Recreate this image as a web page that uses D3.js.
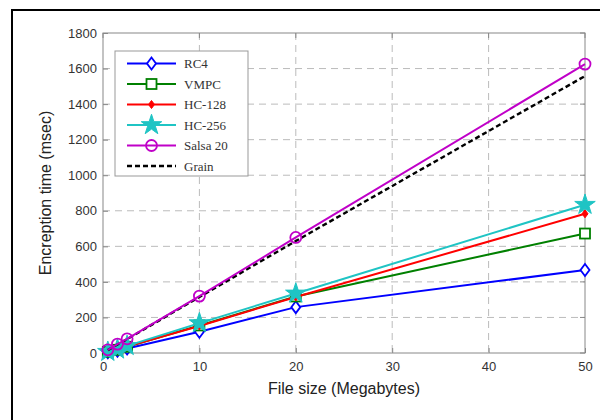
<!DOCTYPE html>
<html><head><meta charset="utf-8">
<script src="https://cdn.jsdelivr.net/npm/d3@7"></script>
<style>body{margin:0;background:#fff}svg{display:block}</style>
</head><body>
<svg id="c" width="600" height="420"></svg>
<script>
const fileSizes = [0.5, 1.5, 2.5, 10, 20, 50];
const rc4    = [4, 12, 25, 120, 258, 467];
const vmpc   = [6, 18, 35, 155, 318, 672];
const hc128  = [6, 18, 36, 152, 315, 783];
const hc256  = [7, 20, 40, 168, 335, 834];
const salsa  = [18, 50, 80, 320, 650, 1625];
const grain  = [16, 48, 78, 315, 630, 1558];
const seriesNames = ["RC4", "VMPC", "HC-128", "HC-256", "Salsa 20", "Grain"];
const xTicks = [0, 10, 20, 30, 40, 50];
const yTicks = [0, 200, 400, 600, 800, 1000, 1200, 1400, 1600, 1800];

const series = [
  {name: seriesNames[0], vals: rc4,   color: "#0000ff", marker: "diamondOpen"},
  {name: seriesNames[1], vals: vmpc,  color: "#008000", marker: "squareOpen"},
  {name: seriesNames[2], vals: hc128, color: "#ff0000", marker: "diamondFilled"},
  {name: seriesNames[3], vals: hc256, color: "#1fc4c4", marker: "star"},
  {name: seriesNames[4], vals: salsa, color: "#c000c8", marker: "circleOpen"},
  {name: seriesNames[5], vals: grain, color: "#000000", marker: "none", dash: "5,3"}
];

const svg = d3.select("#c");
const L = 103, R = 585, T = 33, B = 353;
const x = d3.scaleLinear().domain([0, 50]).range([L, R]);
const y = d3.scaleLinear().domain([0, 1800]).range([B, T]);

// outer frame
svg.append("rect").attr("x", 12).attr("y", 10).attr("width", 600).attr("height", 420)
  .attr("fill", "none").attr("stroke", "#000").attr("stroke-width", 2);

// grid
const grid = svg.append("g");
grid.selectAll("line.gx").data(xTicks.slice(1, -1)).join("line")
  .attr("x1", d => x(d)).attr("x2", d => x(d)).attr("y1", T).attr("y2", B)
  .attr("stroke", "#bbb").attr("stroke-dasharray", "7,5").attr("stroke-width", 1);
grid.selectAll("line.gy").data(yTicks.slice(1, -1)).join("line")
  .attr("y1", d => y(d)).attr("y2", d => y(d)).attr("x1", L).attr("x2", R)
  .attr("stroke", "#bbb").attr("stroke-dasharray", "7,5").attr("stroke-width", 1);

// axes box
svg.append("rect").attr("x", L).attr("y", T).attr("width", R - L).attr("height", B - T)
  .attr("fill", "none").attr("stroke", "#888").attr("stroke-width", 1);

const tickFont = "Liberation Sans, Arial, sans-serif";
const xAxis = svg.append("g").attr("transform", `translate(0,${B})`)
  .call(d3.axisBottom(x).tickValues(xTicks).tickFormat(d3.format("d")).tickSize(-5).tickPadding(9));
const yAxis = svg.append("g").attr("transform", `translate(${L},0)`)
  .call(d3.axisLeft(y).tickValues(yTicks).tickFormat(d3.format("d")).tickSize(-5).tickPadding(6));
[xAxis, yAxis].forEach(a => {
  a.select(".domain").remove();
  a.selectAll(".tick line").attr("stroke", "#888");
  a.selectAll(".tick text").attr("font-family", tickFont).attr("font-size", 13).attr("fill", "#333");
});
// top/right ticks
svg.append("g").selectAll("line").data(xTicks).join("line")
  .attr("x1", d => x(d)).attr("x2", d => x(d)).attr("y1", T).attr("y2", T + 5).attr("stroke", "#888");
svg.append("g").selectAll("line").data(yTicks).join("line")
  .attr("y1", d => y(d)).attr("y2", d => y(d)).attr("x1", R).attr("x2", R - 5).attr("stroke", "#888");

// labels
svg.append("text").attr("x", 344).attr("y", 394).attr("text-anchor", "middle")
  .attr("font-family", tickFont).attr("font-size", 16).attr("fill", "#222")
  .text("File size (Megabytes)");
svg.append("text").attr("transform", "translate(51,193) rotate(-90)").attr("text-anchor", "middle")
  .attr("font-family", tickFont).attr("font-size", 16).attr("fill", "#222")
  .text("Encreption time (msec)");

function drawMarker(g, type, color) {
  if (type === "diamondOpen") {
    g.append("path").attr("d", "M0,-6L4.5,0L0,6L-4.5,0Z").attr("fill", "#fff").attr("stroke", color).attr("stroke-width", 1.8);
  } else if (type === "squareOpen") {
    g.append("rect").attr("x", -5).attr("y", -5).attr("width", 10).attr("height", 10)
      .attr("fill", "#fff").attr("stroke", color).attr("stroke-width", 1.8);
  } else if (type === "diamondFilled") {
    g.append("path").attr("d", "M0,-4L3,0L0,4L-3,0Z").attr("fill", color).attr("stroke", color).attr("stroke-width", 1);
  } else if (type === "star") {
    g.append("path").attr("d", d3.symbol().type(d3.symbolStar).size(130)())
      .attr("fill", color).attr("stroke", color).attr("stroke-width", 1);
  } else if (type === "circleOpen") {
    g.append("circle").attr("r", 5.5).attr("fill", "none").attr("stroke", color).attr("stroke-width", 1.8);
  }
}

const line = d3.line().x((d, i) => x(fileSizes[i])).y(d => y(d));
const plot = svg.append("g");
const order = [0, 1, 2, 3, 5, 4];
order.forEach(k => {
  const s = series[k];
  plot.append("path").datum(s.vals).attr("d", line).attr("fill", "none")
    .attr("stroke", s.color).attr("stroke-width", s.dash ? 2.4 : 2)
    .attr("stroke-dasharray", s.dash || null);
  if (s.marker !== "none") {
    s.vals.forEach((v, i) => {
      const g = plot.append("g").attr("transform", `translate(${x(fileSizes[i])},${y(v)})`);
      drawMarker(g, s.marker, s.color);
    });
  }
});

// legend
const lg = svg.append("g");
lg.append("rect").attr("x", 115).attr("y", 51).attr("width", 133).attr("height", 125)
  .attr("fill", "#fff").attr("stroke", "#999").attr("stroke-width", 1);
series.forEach((s, i) => {
  const yy = 63.5 + i * 20.5;
  lg.append("line").attr("x1", 127).attr("x2", 176).attr("y1", yy).attr("y2", yy)
    .attr("stroke", s.color).attr("stroke-width", s.dash ? 2.4 : 2).attr("stroke-dasharray", s.dash || null);
  if (s.marker !== "none") drawMarker(lg.append("g").attr("transform", `translate(151.5,${yy})`), s.marker, s.color);
  lg.append("text").attr("x", 184).attr("y", yy + 4.5).attr("font-family", "Liberation Serif, DejaVu Serif, serif")
    .attr("font-size", 13).attr("fill", "#333").text(s.name);
});
</script>
</body></html>
